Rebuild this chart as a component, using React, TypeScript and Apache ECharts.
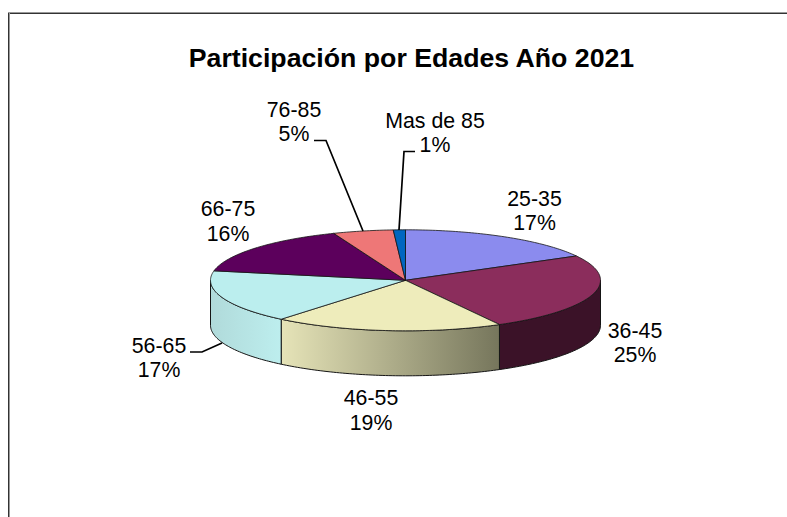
import React, { useEffect, useRef } from "react";
import * as echarts from "echarts";

const titleText = "Participación por Edades Año 2021";
const categories = ["25-35", "36-45", "46-55", "56-65", "66-75", "76-85", "Mas de 85"];
const shares = [17, 25, 19, 17, 16, 5, 1];
const topColors = ["#8b8bee", "#8b2d5c", "#eeecbb", "#bbeeee", "#5c005c", "#ee7777", "#0066c0"];
const wallFrom = ["#7f7fd8", "#3b1228", "#e6e4b8", "#b0dada", "#3c003c", "#c06060", "#004c90"];
const wallTo = ["#7f7fd8", "#3b1228", "#76765c", "#bdeeee", "#3c003c", "#c06060", "#004c90"];
const labelAnchors = [
  [534.5, 211],
  [635, 343],
  [371, 410.5],
  [159, 358],
  [228, 221.5],
  [294, 122],
  [435, 133],
];
const leaders: (number[][] | null)[] = [
  null,
  null,
  null,
  [[190, 352], [202, 352], [222, 343]],
  null,
  [[314, 140.5], [326, 140.5], [363, 231]],
  [[415, 151.5], [404, 151.5], [399, 230]],
];

const CX = 405.5;
const CY = 280.3;
const RX = 195;
const RY = 50.5;
const DEPTH = 45;
const EDGE = "#151515";

const total = shares.reduce((a, b) => a + b, 0);
const bounds = shares.reduce<number[]>((acc, v) => [...acc, acc[acc.length - 1] + (v / total) * 360], [0]);
const pt = (deg: number, dy = 0) => {
  const r = (deg * Math.PI) / 180;
  return [CX + RX * Math.sin(r), CY - RY * Math.cos(r) + dy];
};
const arcPts = (a: number, b: number, dy = 0) => {
  const out: number[][] = [];
  const n = Math.max(2, Math.ceil(Math.abs(b - a)));
  for (let i = 0; i <= n; i++) out.push(pt(a + ((b - a) * i) / n, dy));
  return out;
};

export default function App() {
  const ref = useRef<HTMLDivElement>(null);
  useEffect(() => {
    const chart = echarts.init(ref.current!, null, { renderer: "svg" });
    const wallItem = (_: any, api: any) => {
      const i = api.value(0);
      const a = Math.max(bounds[i], 90);
      const b = Math.min(bounds[i + 1], 270);
      if (a >= b) return { type: "group", children: [] };
      const top = arcPts(a, b);
      const bottom = arcPts(b, a, DEPTH);
      return {
        type: "polygon",
        shape: { points: [...top, ...bottom] },
        style: {
          fill: new echarts.graphic.LinearGradient(0, 0, 1, 0, [
            { offset: 0, color: wallFrom[i] },
            { offset: 1, color: wallTo[i] },
          ]),
          stroke: EDGE,
          lineWidth: 1,
        },
      };
    };
    const topItem = (_: any, api: any) => {
      const i = api.value(0);
      return {
        type: "polygon",
        shape: { points: [[CX, CY], ...arcPts(bounds[i], bounds[i + 1])] },
        style: { fill: topColors[i], stroke: EDGE, lineWidth: 0.8 },
      };
    };
    const labelItem = (_: any, api: any) => {
      const i = api.value(0);
      const children: any[] = [
        {
          type: "text",
          x: labelAnchors[i][0],
          y: labelAnchors[i][1],
          style: {
            text: `${categories[i]}\n${shares[i]}%`,
            fontFamily: "Liberation Sans",
            fontSize: 21.3,
            lineHeight: 24.5,
            fill: "#000",
            align: "center",
            verticalAlign: "middle",
          },
        },
      ];
      if (leaders[i]) {
        children.push({
          type: "polyline",
          shape: { points: leaders[i] },
          style: { fill: "none", stroke: "#000", lineWidth: 1.7 },
        });
      }
      return { type: "group", children };
    };
    const rows = shares.map((v, i) => [i, v]);
    chart.setOption({
      animation: false,
      backgroundColor: "#fff",
      title: {
        text: titleText,
        left: 406.5,
        top: 39.5,
        textAlign: "center",
        textStyle: { fontFamily: "Liberation Sans", fontSize: 26.7, fontWeight: "bold", color: "#000" },
      },
      graphic: [
        { type: "line", shape: { x1: 8, y1: 12.5, x2: 787, y2: 12.5 }, style: { stroke: "#999", lineWidth: 1 } },
        { type: "line", shape: { x1: 8, y1: 13.5, x2: 787, y2: 13.5 }, style: { stroke: "#333", lineWidth: 1 } },
        { type: "line", shape: { x1: 8.5, y1: 13, x2: 8.5, y2: 517 }, style: { stroke: "#333", lineWidth: 1 } },
        { type: "line", shape: { x1: 9.5, y1: 13, x2: 9.5, y2: 517 }, style: { stroke: "#999", lineWidth: 1 } },
      ],
      series: [
        { type: "custom", coordinateSystem: "none", renderItem: wallItem, data: rows, silent: true, z: 1 },
        { type: "custom", coordinateSystem: "none", renderItem: topItem, data: rows, silent: true, z: 2 },
        { type: "custom", coordinateSystem: "none", renderItem: labelItem, data: rows, silent: true, z: 3 },
      ],
    });
    return () => chart.dispose();
  }, []);
  return <div ref={ref} style={{ position: "fixed", left: 0, top: 0, width: 787, height: 517 }} />;
}
